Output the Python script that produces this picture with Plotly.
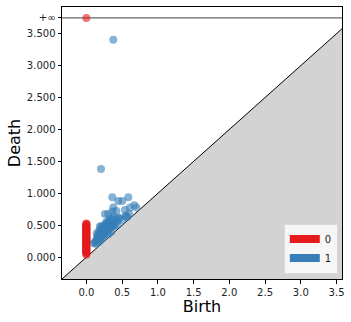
import plotly.graph_objects as go

# ---- data ----
dim0_deaths = [0.04, 0.06, 0.07, 0.08, 0.09, 0.10, 0.11, 0.12, 0.13, 0.14, 0.15, 0.16,
               0.17, 0.18, 0.19, 0.20, 0.21, 0.22, 0.23, 0.24, 0.25, 0.26, 0.27, 0.28,
               0.29, 0.30, 0.31, 0.32, 0.33, 0.34, 0.35, 0.36, 0.37, 0.38, 0.39, 0.40,
               0.41, 0.42, 0.43, 0.44, 0.45, 0.46, 0.47, 0.48, 0.49, 0.50, 0.51, 0.52, 0.53]
dim0_births = [0.0] * len(dim0_deaths)
dim0_inf_births = [0.0]

dim1_births = [0.107, 0.12, 0.13, 0.14, 0.15, 0.15, 0.16, 0.17, 0.17, 0.18, 0.18, 0.19, 0.19,
               0.20, 0.20, 0.21, 0.21, 0.22, 0.22, 0.23, 0.23, 0.24, 0.24, 0.25, 0.25, 0.26,
               0.26, 0.27, 0.27, 0.28, 0.28, 0.29, 0.30, 0.30, 0.31, 0.32, 0.33, 0.33, 0.34,
               0.35, 0.36, 0.37, 0.38, 0.40, 0.42, 0.44, 0.46, 0.50, 0.55, 0.57, 0.60, 0.67,
               0.70, 0.61, 0.56, 0.26, 0.305, 0.363, 0.42, 0.377, 0.447, 0.377, 0.54, 0.447,
               0.503, 0.363, 0.587, 0.33, 0.19, 0.145, 0.205, 0.377,
               0.16, 0.18, 0.21, 0.24, 0.27, 0.30, 0.33, 0.36, 0.39, 0.31, 0.35, 0.43]
dim1_deaths = [0.22, 0.24, 0.21, 0.27, 0.25, 0.31, 0.28, 0.33, 0.24, 0.30, 0.36, 0.27, 0.40,
               0.33, 0.29, 0.37, 0.44, 0.31, 0.35, 0.40, 0.47, 0.34, 0.38, 0.43, 0.36, 0.50,
               0.40, 0.45, 0.38, 0.42, 0.55, 0.47, 0.41, 0.50, 0.44, 0.48, 0.45, 0.58, 0.51,
               0.47, 0.53, 0.50, 0.56, 0.53, 0.60, 0.57, 0.62, 0.58, 0.65, 0.63, 0.68, 0.815,
               0.78, 0.78, 0.64, 0.675, 0.675, 0.715, 0.725, 0.78, 0.61, 0.64, 0.74, 0.88,
               0.88, 0.94, 0.94, 0.60, 0.48, 0.376, 1.38, 3.406,
               0.35, 0.42, 0.49, 0.45, 0.52, 0.55, 0.52, 0.60, 0.49, 0.36, 0.40, 0.50]

x_ticks = [0.0, 0.5, 1.0, 1.5, 2.0, 2.5, 3.0, 3.5]
x_tick_labels = ["0.0", "0.5", "1.0", "1.5", "2.0", "2.5", "3.0", "3.5"]
y_ticks = [0.0, 0.5, 1.0, 1.5, 2.0, 2.5, 3.0, 3.5]
y_tick_labels = ["0.000", "0.500", "1.000", "1.500", "2.000", "2.500", "3.000", "3.500"]
legend_labels = ["0", "1"]
colors = ["#e41a1c", "#377eb8"]

# ---- gudhi-like geometry ----
min_birth = 0.0
max_death = max(dim1_deaths + dim0_deaths)
delta = (max_death - min_birth) * 0.1
infinity = max_death + delta
axis_start = min_birth - delta
axis_end = max_death + delta / 2
y_top = infinity + delta / 2

fig = go.Figure()

# gray region under diagonal
fig.add_trace(go.Scatter(
    x=[axis_start, axis_end, axis_end, axis_start],
    y=[axis_start, axis_end, axis_start, axis_start],
    fill="toself", fillcolor="#d3d3d3", mode="lines",
    line=dict(width=0), hoverinfo="skip", showlegend=False))
# diagonal
fig.add_trace(go.Scatter(
    x=[axis_start, axis_end], y=[axis_start, axis_end], mode="lines",
    line=dict(color="black", width=1), showlegend=False, hoverinfo="skip"))
# infinity line
fig.add_trace(go.Scatter(
    x=[axis_start, axis_end], y=[infinity, infinity], mode="lines",
    line=dict(color="rgba(0,0,0,0.6)", width=1.2), showlegend=False, hoverinfo="skip"))

# dim 1 points
fig.add_trace(go.Scatter(
    x=dim1_births, y=dim1_deaths, mode="markers",
    marker=dict(color=colors[1], opacity=0.6, size=8, line=dict(width=0)),
    showlegend=False))
# dim 0 points
fig.add_trace(go.Scatter(
    x=dim0_births + dim0_inf_births,
    y=dim0_deaths + [infinity] * len(dim0_inf_births),
    mode="markers",
    marker=dict(color=colors[0], opacity=0.6, size=8, line=dict(width=0)),
    showlegend=False))

# legend patches
for lab, col in zip(legend_labels, colors):
    fig.add_trace(go.Scatter(
        x=[None], y=[None], mode="lines", name=lab,
        line=dict(color=col, width=8)))

fig.update_layout(
    width=351, height=322,
    margin=dict(l=62, r=9, t=7, b=43),
    plot_bgcolor="white", paper_bgcolor="white",
    font=dict(family="DejaVu Sans", size=10, color="#222222"),
    showlegend=True,
    legend=dict(x=0.985, y=0.02, xanchor="right", yanchor="bottom",
                bgcolor="rgba(255,255,255,0.8)", bordercolor="#d9d9d9", borderwidth=1,
                font=dict(size=10, color="#222222"), itemwidth=30,
                tracegroupgap=0),
)
fig.update_xaxes(
    range=[axis_start, axis_end], tickvals=x_ticks, ticktext=x_tick_labels,
    showgrid=False, zeroline=False, showline=True, linecolor="black", linewidth=1,
    mirror=True, ticks="outside", ticklen=3.5, tickcolor="black", automargin=False,
    title=dict(text="Birth", font=dict(size=16, color="black"), standoff=2))
fig.update_yaxes(
    range=[axis_start, y_top], tickvals=y_ticks + [infinity],
    ticktext=y_tick_labels + ["+∞"],
    showgrid=False, zeroline=False, showline=True, linecolor="black", linewidth=1,
    mirror=True, ticks="outside", ticklen=3.5, tickcolor="black", automargin=False,
    title=dict(text="Death", font=dict(size=16, color="black"), standoff=2))

fig.write_html("out.html", config={"displayModeBar": False},
               post_script="document.body.style.margin='0px';")
